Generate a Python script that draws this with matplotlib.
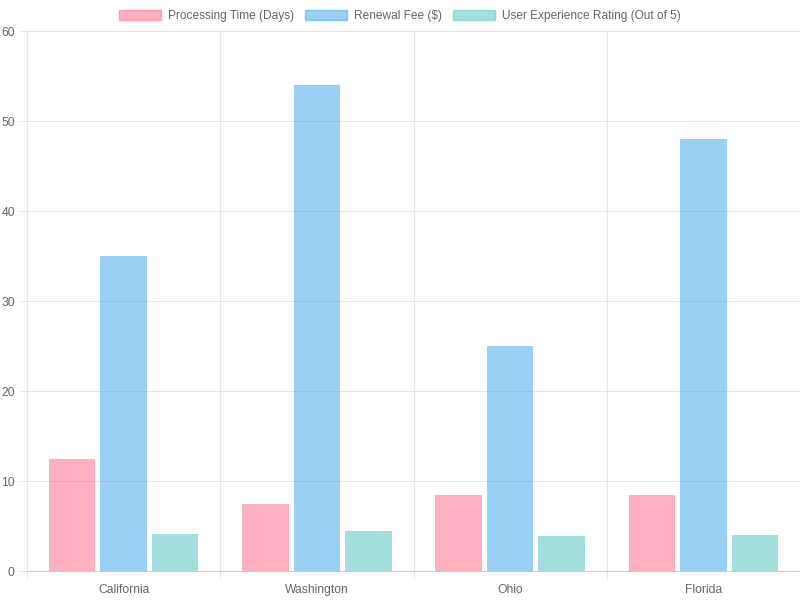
import numpy as np
import matplotlib.pyplot as plt
from matplotlib.patches import Patch

states = ["California", "Washington", "Ohio", "Florida"]
processing_days = [12.5, 7.5, 8.5, 8.5]
renewal_fee = [35, 54, 25, 48]
ux_rating = [4.1, 4.5, 3.9, 4.0]

series = [
    ("Processing Time (Days)", processing_days, (255/255, 99/255, 132/255)),
    ("Renewal Fee ($)", renewal_fee, (54/255, 162/255, 235/255)),
    ("User Experience Rating (Out of 5)", ux_rating, (75/255, 192/255, 192/255)),
]

plt.rcParams["font.family"] = ["Liberation Sans", "DejaVu Sans"]
grid_c = "#e6e6e6"
text_c = "#666666"

fig = plt.figure(figsize=(8, 6), dpi=100)
ax = fig.add_axes([27/800, 29/600, 773/800, 540/600])

x = np.arange(len(states))
slot = 0.8 / 3
width = slot * 0.9
for i, (name, vals, col) in enumerate(series):
    ax.bar(x + (i - 1) * slot, vals, width=width, color=(*col, 0.5),
           edgecolor="none", label=name, zorder=2)

ax.set_xlim(-0.5, len(states) - 0.5)
ax.set_ylim(0, 60)
ax.set_yticks(np.arange(0, 61, 10))
ax.set_xticks(x)
ax.set_xticklabels(states, va="center")
ax.set_xticks(np.arange(-0.5, len(states)), minor=True)

# tick lengths are in points: 0.75 pt per pixel at dpi 100
ax.grid(axis="y", color=grid_c, linewidth=0.75, alpha=1, zorder=0)
ax.grid(axis="x", which="minor", color=grid_c, linewidth=0.75, alpha=1, zorder=0)
ax.tick_params(axis="x", which="major", length=0, pad=13.5, labelsize=8.7, labelcolor=text_c)
ax.tick_params(axis="x", which="minor", length=6, color=grid_c, width=0.75)
ax.tick_params(axis="y", length=5.25, color=grid_c, width=0.75, pad=3.5, labelsize=8.7, labelcolor=text_c)
for s in ["top", "right"]:
    ax.spines[s].set_visible(False)
ax.spines["left"].set_color(grid_c)
ax.spines["left"].set_linewidth(0.75)
ax.spines["bottom"].set_color("#cccccc")
ax.spines["bottom"].set_linewidth(0.75)
ax.set_axisbelow(True)

handles = [Patch(facecolor=(*c, 0.5), edgecolor=(*c, 0.5), label=n) for n, _, c in series]
fig.legend(handles=handles, loc="center", bbox_to_anchor=(0.5, 1 - 16/600), ncol=3,
           frameon=False, fontsize=8.6, labelcolor=text_c, handlelength=3.5,
           handleheight=0.87, handletextpad=0.6, columnspacing=0.9)

fig.savefig("out.png", dpi=100)
